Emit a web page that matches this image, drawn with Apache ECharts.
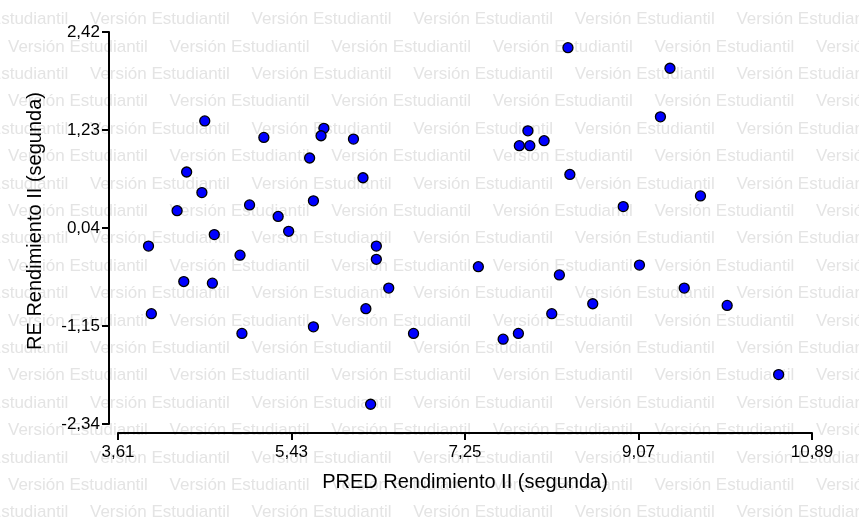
<!DOCTYPE html>
<html><head><meta charset="utf-8">
<script src="https://cdn.jsdelivr.net/npm/echarts@6/dist/echarts.min.js"></script>
<style>html,body{margin:0;padding:0;background:#fff}#c{width:859px;height:520px}</style>
</head><body><div id="c"></div>
<script>
const xTicks = [3.61, 5.43, 7.25, 9.07, 10.89];
const yTicks = [-2.34, -1.15, 0.04, 1.23, 2.42];
const predValues = [4.52,5.14,5.77,5.74,5.62,4.33,4.49,4.23,4.99,5.29,5.66,5.40,6.08,8.33,6.18,7.91,7.82,7.93,8.08,8.35,9.40,9.30,9.72,8.91,4.62,3.93,4.89,4.30,4.60,3.96,4.91,5.66,6.32,6.32,6.45,6.21,6.71,7.39,8.24,8.16,7.81,7.65,6.26,9.08,9.55,8.59,10.00,10.54];
const reValues = [1.34,1.14,1.25,1.16,0.89,0.72,0.47,0.25,0.32,0.18,0.37,0.00,1.12,2.23,0.65,1.22,1.04,1.04,1.10,0.69,1.98,1.39,0.43,0.30,-0.04,-0.18,-0.29,-0.61,-0.63,-1.00,-1.24,-1.16,-0.18,-0.34,-0.69,-0.94,-1.24,-0.43,-0.53,-1.00,-1.24,-1.31,-2.10,-0.41,-0.69,-0.88,-0.90,-1.74];
const xAxisName = 'PRED Rendimiento II (segunda)';
const yAxisName = 'RE Rendimiento II (segunda)';
const watermarkText = 'Versión Estudiantil';

const FONT = '"Liberation Sans", Arial, sans-serif';
const fmt = v => Number(v).toFixed(2).replace('.', ',');

const wm = [];
for (let k = 0; k < 20; k++) {
  const y = 19.5 + 27.4 * k;
  const x0 = (k % 2 === 0) ? 90 : 8;
  for (let m = -1; m < 6; m++) {
    wm.push({
      type: 'text', x: x0 + 161.6 * m, y: y, z: -10, silent: true,
      style: { text: watermarkText, fill: '#e4e4e4', fontSize: 17, fontFamily: FONT, verticalAlign: 'middle' }
    });
  }
}

const chart = echarts.init(document.getElementById('c'), null, { renderer: 'canvas' });
chart.setOption({
  animation: false,
  backgroundColor: '#fff',
  graphic: { elements: wm },
  grid: { left: 118, right: 47, top: 32, bottom: 96, containLabel: false },
  xAxis: {
    type: 'value', min: xTicks[0], max: xTicks[xTicks.length - 1], position: 'bottom', offset: 9,
    axisLine: { show: true, onZero: false, lineStyle: { color: '#000', width: 2 } },
    axisTick: { show: true, length: 7, customValues: xTicks, lineStyle: { color: '#000', width: 2 } },
    axisLabel: { customValues: xTicks, formatter: fmt, color: '#000', fontSize: 17, margin: 11, fontFamily: FONT },
    splitLine: { show: false },
    name: xAxisName, nameLocation: 'middle', nameGap: 39,
    nameTextStyle: { fontSize: 20, color: '#000', fontFamily: FONT }
  },
  yAxis: {
    type: 'value', min: yTicks[0], max: yTicks[yTicks.length - 1], position: 'left', offset: 9,
    axisLine: { show: true, onZero: false, lineStyle: { color: '#000', width: 2 } },
    axisTick: { show: true, length: 7, customValues: yTicks, lineStyle: { color: '#000', width: 2 } },
    axisLabel: { customValues: yTicks, formatter: fmt, color: '#000', fontSize: 17, margin: 9, fontFamily: FONT },
    splitLine: { show: false },
    name: yAxisName, nameLocation: 'middle', nameGap: 64,
    nameTextStyle: { fontSize: 20, color: '#000', fontFamily: FONT, padding: [0, 0, 0, 14] }
  },
  series: [{
    type: 'scatter',
    data: predValues.map((x, i) => [x, reValues[i]]),
    symbol: 'circle', symbolSize: 10,
    itemStyle: { color: '#0000ff', borderColor: '#000', borderWidth: 1.3, opacity: 1 },
    z: 5
  }]
});
</script>
</body></html>
